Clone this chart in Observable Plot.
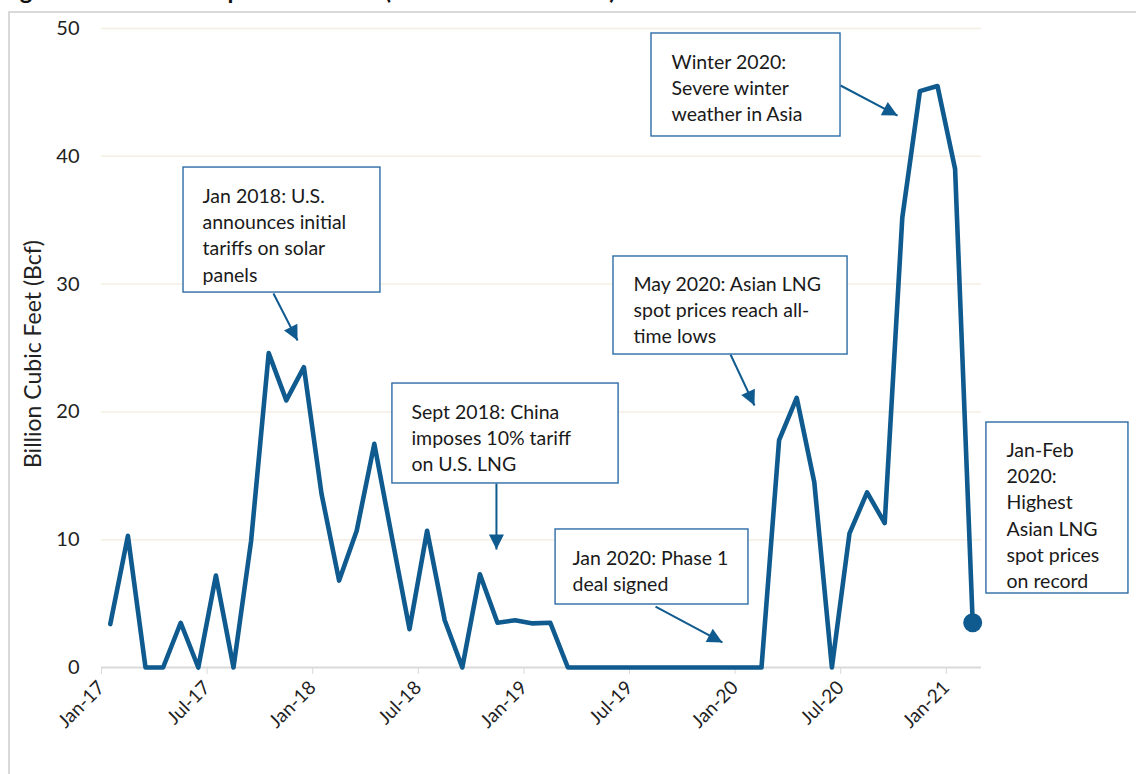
<!DOCTYPE html>
<html><head><meta charset="utf-8">
<script src="https://cdn.jsdelivr.net/npm/d3@7"></script>
<script src="https://cdn.jsdelivr.net/npm/@observablehq/plot@0.6"></script>
<style>
body{margin:0;background:#fff;overflow:hidden;font-family:Lato,sans-serif;}
#wrap{position:relative;width:1136px;height:774px;overflow:hidden;}
#title{position:absolute;left:0;top:-22px;font:bold 24px Lato,sans-serif;white-space:nowrap;color:#111;line-height:24px;}
#frame{position:absolute;left:8px;top:11px;width:1200px;height:900px;border:2px solid #d9d9d9;box-sizing:border-box;}
#chart{position:absolute;left:0;top:0;}
</style></head><body>
<div id="wrap"><div id="title">Figure 1: U.S. LNG Exports to China (Jan 2017 - Feb 2021)</div><div id="frame"></div><div id="chart"></div></div>
<script>
// Monthly U.S. LNG exports to China, Jan-2017 .. Feb-2021 (Bcf)
const values = [3.4,10.3,0,0,3.5,0,7.2,0,9.9,24.6,20.9,23.5,13.6,6.8,10.7,17.5,10.2,3.0,10.7,3.7,0,7.3,3.5,3.7,3.45,3.5,0,0,0,0,0,0,0,0,0,0,0,0,17.8,21.1,14.5,0,10.5,13.7,11.3,35.2,45.1,45.5,39.0,3.5];
const months = d3.utcMonth.range(new Date(Date.UTC(2017,0,1)), new Date(Date.UTC(2021,2,1)));
const tickPositions = [0,6,12,18,24,30,36,42,48];
const tickLabels = ["Jan-17","Jul-17","Jan-18","Jul-18","Jan-19","Jul-19","Jan-20","Jul-20","Jan-21"];
const yTicks = [0,10,20,30,40,50];
const yLabel = "Billion Cubic Feet (Bcf)";

// annotation boxes (data coordinates: month index, Bcf)
const boxTexts = [
  "Jan 2018: U.S.\nannounces initial\ntariffs on solar\npanels",
  "Sept 2018: China\nimposes 10% tariff\non U.S. LNG",
  "Jan 2020: Phase 1\ndeal signed",
  "May 2020: Asian LNG\nspot prices reach all-\ntime lows",
  "Winter 2020:\nSevere winter\nweather in Asia",
  "Jan-Feb\n2020:\nHighest\nAsian LNG\nspot prices\non record"
];
const boxX1 = [4.66,16.53,25.80,29.09,31.25,50.28];
const boxX2 = [15.85,29.38,36.76,42.39,41.99,58.35];
const boxY1 = [39.12,22.22,10.80,32.16,49.61,19.17];
const boxY2 = [29.34,14.40,4.93,24.49,41.55,5.79];
const textX = [5.74,17.61,26.76,30.23,32.39,51.42];
const textY = [37.25,20.34,8.92,30.36,47.73,17.37];
// arrows
const arrowX1 = [9.77,22.44,31.48,35.74,41.99];
const arrowY1 = [29.26,14.40,4.77,24.49,45.54];
const arrowX2 = [11.14,22.44,35.28,37.10,45.23];
const arrowY2 = [25.59,9.23,1.96,20.50,43.19];

const C = "#0f5a8e";
const data = values.map((v,i)=>({i:i+0.5, v, m:months[i]}));
const boxes = boxTexts.map((t,k)=>({t, x1:boxX1[k], x2:boxX2[k], y1:boxY1[k], y2:boxY2[k], tx:textX[k], ty:textY[k]}));
const arrows = arrowX1.map((x,k)=>({x1:x, y1:arrowY1[k], x2:arrowX2[k], y2:arrowY2[k]}));

function tri(color, context){
  const m = d3.create("svg:marker").attr("viewBox","-16 -8 17 16").attr("markerUnits","userSpaceOnUse")
    .attr("markerWidth",17).attr("markerHeight",16).attr("orient","auto");
  m.append("path").attr("d","M-15,-7.5L0,0L-15,7.5Z").attr("fill",color).attr("stroke","none");
  return m.node();
}

const chart = Plot.plot({
  width:1136, height:774, marginLeft:101, marginRight:155, marginTop:28, marginBottom:107,
  style:{fontFamily:"Lato, sans-serif", background:"transparent", overflow:"visible"},
  x:{domain:[0,50]}, y:{domain:[0,50]},
  marks:[
    Plot.ruleY(yTicks.filter(d=>d>0),{stroke:"#f4eee3",strokeWidth:1.5}),
    Plot.ruleY([0],{stroke:"#d9d9d9",strokeWidth:2}),
    Plot.axisX({ticks:tickPositions, tickFormat:d=>tickLabels[tickPositions.indexOf(d)], tickRotate:-45, tickSize:7, tickPadding:10, stroke:"#d9d9d9", fill:"#222", fontSize:19, label:null}),
    Plot.axisY({ticks:yTicks, tickSize:0, tickPadding:22, fontSize:20, fill:"#222", label:null}),
    Plot.text([yLabel],{frameAnchor:"left", textAnchor:"middle", text:d=>d, rotate:-90, dx:-68, dy:6, fontSize:23, fill:"#222"}),
    Plot.line(data,{x:"i",y:"v",stroke:C,strokeWidth:4.6,strokeLinejoin:"round"}),
    Plot.dot(data.slice(-1),{x:"i",y:"v",r:9.5,fill:C}),
    Plot.link(arrows,{x1:"x1",y1:"y1",x2:"x2",y2:"y2",stroke:C,strokeWidth:2,markerEnd:tri}),
    Plot.rect(boxes,{x1:"x1",x2:"x2",y1:"y1",y2:"y2",fill:"white",stroke:"#2d6ca5",strokeWidth:1.4}),
    Plot.text(boxes,{x:"tx",y:"ty",text:"t",textAnchor:"start",lineAnchor:"top",lineHeight:1.35,fontSize:19.5,fill:"#1a1a1a",dy:-7.5})
  ]
});
document.getElementById("chart").appendChild(chart);
</script>
</body></html>
